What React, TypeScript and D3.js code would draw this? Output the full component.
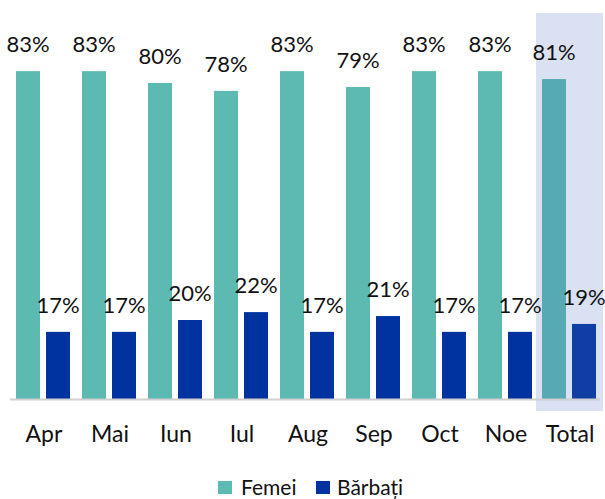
import React from "react";
import * as d3 from "d3";

const categories = ["Apr", "Mai", "Iun", "Iul", "Aug", "Sep", "Oct", "Noe", "Total"];
const femei = [83, 83, 80, 78, 83, 79, 83, 83, 81];
const barbati = [17, 17, 20, 22, 17, 21, 17, 17, 19];
const seriesNames = ["Femei", "Bărbați"];

const W = 605;
const H = 499;
const FONT = "Lato, 'Open Sans', sans-serif";

export default function App() {
  const x = d3.scaleBand<string>().domain(categories).range([10, 604]).paddingInner(0).paddingOuter(0);
  const y = d3.scaleLinear().domain([0, 100]).range([399, 4]);
  const step = x.step();
  const barW = 24;
  const gap = 6;
  const colF = (c: string) => (c === "Total" ? "#57A9B4" : "#5DBAB3");
  const colB = (c: string) => (c === "Total" ? "#0F3FA3" : "#0033A0");

  return (
    <svg width={W} height={H} style={{ position: "absolute", left: 0, top: 0 }}>
      <rect x={536} y={13} width={67} height={398} fill="#D9E1F2" />
      {categories.map((c, i) => {
        const cx = (x(c) as number) + step / 2 + (c === "Total" ? -2 : 0);
        const xf = cx - gap / 2 - barW;
        const xb = cx + gap / 2;
        return (
          <g key={c}>
            <rect x={xf} y={y(femei[i])} width={barW} height={y(0) - y(femei[i])} fill={colF(c)} />
            <rect x={xb} y={y(barbati[i])} width={barW} height={y(0) - y(barbati[i])} fill={colB(c)} />
            <text x={xf + barW / 2} y={y(femei[i]) - 19} textAnchor="middle" fontFamily={FONT} fontSize={22} fill="#111">
              {femei[i]}%
            </text>
            <text x={xb + barW / 2} y={y(barbati[i]) - 19} textAnchor="middle" fontFamily={FONT} fontSize={22} fill="#111">
              {barbati[i]}%
            </text>
            <text x={cx + 1} y={442} textAnchor="middle" fontFamily={FONT} fontSize={23} fill="#111">
              {c}
            </text>
          </g>
        );
      })}
      <line x1={10} x2={600} y1={399.5} y2={399.5} stroke="#D0D0D0" strokeWidth={2} />
      <g>
        <rect x={218} y={481} width={14} height={13} fill="#5DBAB3" />
        <text x={241} y={495} fontFamily={FONT} fontSize={21} fill="#111">{seriesNames[0]}</text>
        <rect x={316} y={481} width={14} height={13} fill="#0033A0" />
        <text x={337} y={495} fontFamily={FONT} fontSize={21} fill="#111">{seriesNames[1]}</text>
      </g>
    </svg>
  );
}
